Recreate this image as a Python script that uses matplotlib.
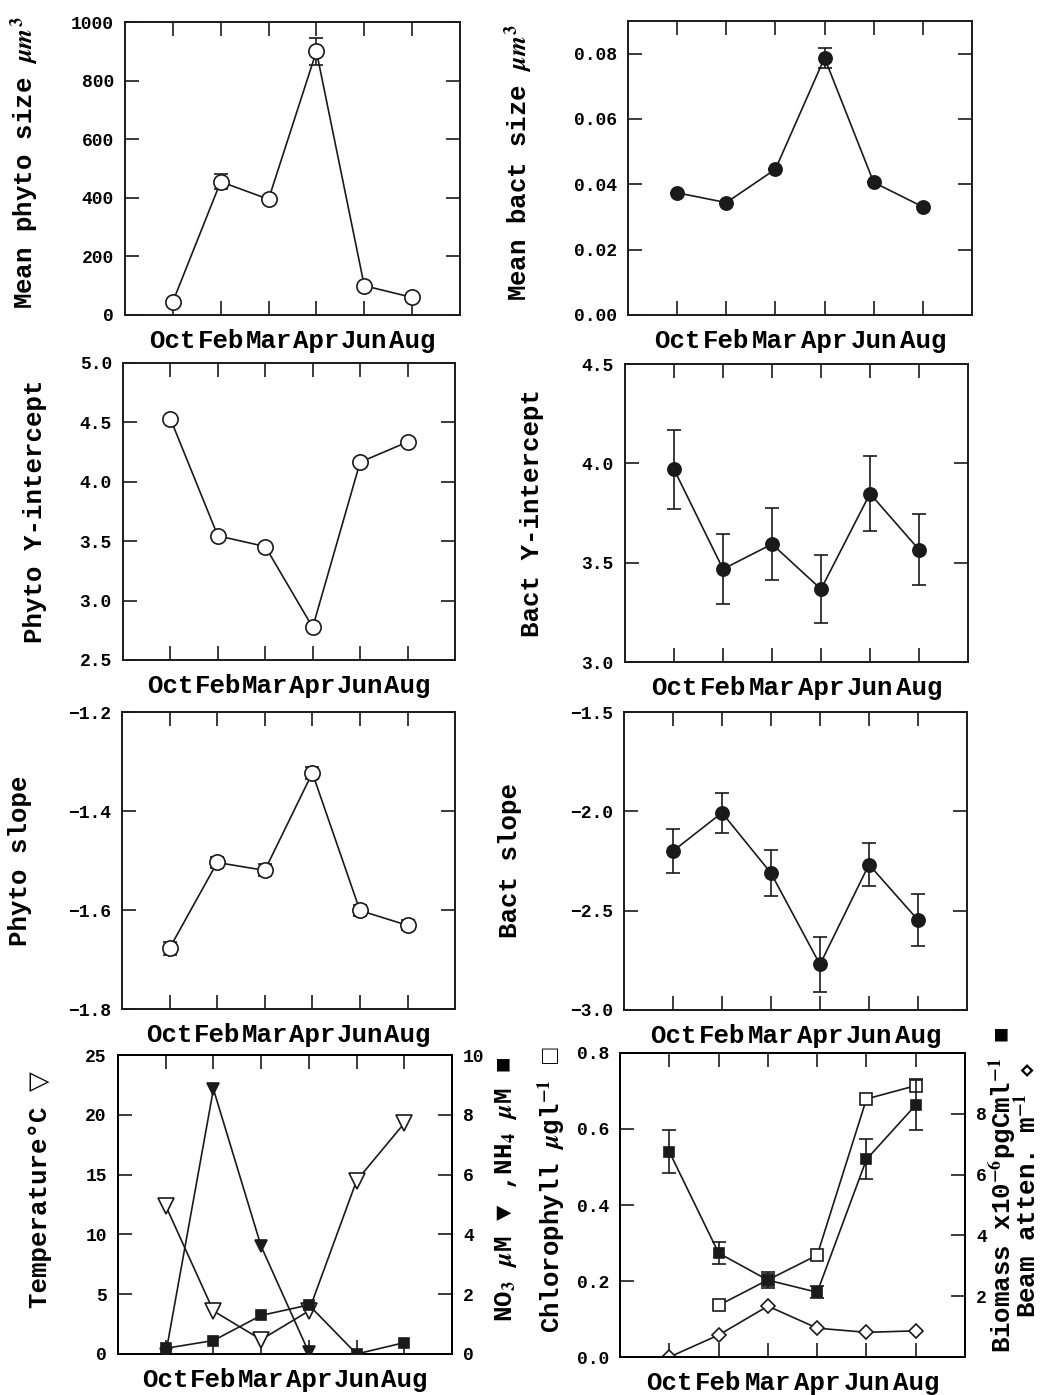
import numpy as np
import matplotlib.pyplot as plt

plt.rcParams['font.family'] = ['Liberation Mono', 'DejaVu Sans']
plt.rcParams['font.weight'] = 'bold'
plt.rcParams['axes.labelweight'] = 'bold'
plt.rcParams['mathtext.fontset'] = 'stix'

months = ['Oct', 'Feb', 'Mar', 'Apr', 'Jun', 'Aug']
x = np.arange(len(months))

# values
phyto_size = [45, 455, 395, 900, 100, 60]
phyto_size_err = [0, 25, 0, 45, 0, 0]
bact_size = [0.0374, 0.0344, 0.0446, 0.0787, 0.0406, 0.0331]
bact_size_err = [0, 0, 0, 0.003, 0, 0]
phyto_int = [4.53, 3.545, 3.455, 2.775, 4.165, 4.335]
bact_int = [3.97, 3.468, 3.594, 3.367, 3.848, 3.566]
bact_int_err = [0.2, 0.175, 0.18, 0.17, 0.19, 0.18]
phyto_slope = [-1.677, -1.504, -1.52, -1.323, -1.601, -1.631]
phyto_slope_err = [0.013, 0.012, 0.012, 0.012, 0.012, 0.01]
bact_slope = [-2.2, -2.007, -2.311, -2.771, -2.268, -2.547]
bact_slope_err = [0.11, 0.1, 0.115, 0.14, 0.11, 0.13]
temperature = [12.4, 3.6, 1.2, 3.6, 14.5, 19.3]
no3 = [0.0, 8.86, 3.6, 0.05, np.nan, np.nan]
nh4 = [0.19, 0.45, 1.29, 1.64, 0.0, 0.38]
chl = [np.nan, 0.136, 0.203, 0.268, 0.679, 0.714]
beam = [0.0, 0.058, 0.134, 0.076, 0.065, 0.069]
biomass = [6.75, 3.42, 2.53, 2.13, 6.50, 8.29]
biomass_err = [0.7, 0.36, 0.26, 0.2, 0.66, 0.84]

K = '#1a1a1a'
LBL = 18.5
TCK = 13

fig = plt.figure(figsize=(10.44, 13.95), dpi=100)


def style(ax, ylim, yticks, ylabels, right=True):
    ax.set_xlim(-1, 6)
    ax.set_xticks(x)
    ax.set_xticklabels(months, fontsize=LBL)
    ax.set_ylim(*ylim)
    ax.set_yticks(yticks)
    ax.set_yticklabels(ylabels, fontsize=TCK)
    ax.tick_params(direction='in', top=True, right=right, length=10, width=1.2, color=K)
    ax.tick_params(axis='x', pad=10)
    ax.tick_params(axis='y', pad=8)
    for s in ax.spines.values():
        s.set_linewidth(1.4)
        s.set_color(K)


def series(ax, y, err=None, **kw):
    opts = dict(color=K, lw=1.2, ms=10, mew=1.2, zorder=3)
    opts.update(kw)
    if err is not None:
        ax.errorbar(x, y, yerr=err, capsize=5, elinewidth=1.2, capthick=1.2, **opts)
    else:
        ax.plot(x, y, **opts)


open_c = dict(marker='o', mfc='white', mec=K, ms=11)
fill_c = dict(marker='o', mfc=K, mec=K, ms=9.5)

# row 1
ax = fig.add_axes([0.1197, 0.7742, 0.3209, 0.2100])
series(ax, phyto_size, phyto_size_err, **open_c)
style(ax, (0, 1000), [0, 200, 400, 600, 800, 1000], ['0', '200', '400', '600', '800', '1000'])
ax.set_ylabel(r'Mean phyto size $\mu m^3$', fontsize=LBL)
ax.yaxis.set_label_coords(-0.25, 0.52)

ax = fig.add_axes([0.6015, 0.7742, 0.3295, 0.2108])
series(ax, bact_size, bact_size_err, **fill_c)
style(ax, (0, 0.09), [0, 0.02, 0.04, 0.06, 0.08], ['0.00', '0.02', '0.04', '0.06', '0.08'])
ax.set_ylabel(r'Mean bact size $\mu m^3$', fontsize=LBL)
ax.yaxis.set_label_coords(-0.27, 0.52)

# row 2
ax = fig.add_axes([0.1178, 0.5269, 0.318, 0.2129])
series(ax, phyto_int, **open_c)
style(ax, (2.5, 5.0), [2.5, 3.0, 3.5, 4.0, 4.5, 5.0], ['2.5', '3.0', '3.5', '4.0', '4.5', '5.0'])
ax.set_ylabel('Phyto Y-intercept', fontsize=LBL)
ax.yaxis.set_label_coords(-0.23, 0.5)

ax = fig.add_axes([0.5987, 0.5254, 0.3285, 0.2136])
series(ax, bact_int, bact_int_err, **fill_c)
style(ax, (3.0, 4.5), [3.0, 3.5, 4.0, 4.5], ['3.0', '3.5', '4.0', '4.5'])
ax.set_ylabel('Bact Y-intercept', fontsize=LBL)
ax.yaxis.set_label_coords(-0.235, 0.5)

# row 3
ax = fig.add_axes([0.1169, 0.2767, 0.319, 0.2129])
series(ax, phyto_slope, phyto_slope_err, **open_c)
style(ax, (-1.8, -1.2), [-1.8, -1.6, -1.4, -1.2], ['\u22121.8', '\u22121.6', '\u22121.4', '\u22121.2'])
ax.set_ylabel('Phyto slope', fontsize=LBL)
ax.yaxis.set_label_coords(-0.27, 0.5)

ax = fig.add_axes([0.5977, 0.2760, 0.3285, 0.2136])
series(ax, bact_slope, bact_slope_err, **fill_c)
style(ax, (-3.0, -1.5), [-3.0, -2.5, -2.0, -1.5], ['\u22123.0', '\u22122.5', '\u22122.0', '\u22121.5'])
ax.set_ylabel('Bact slope', fontsize=LBL)
ax.yaxis.set_label_coords(-0.297, 0.5)

# row 4 left: temperature and nutrients
ax = fig.add_axes([0.1130, 0.0294, 0.3200, 0.2143])
ax2 = ax.twinx()
series(ax, temperature, marker='v', mfc='white', mec=K, ms=11)
series(ax2, no3, marker='v', mfc=K, mec=K, ms=9)
series(ax2, nh4, marker='s', mfc=K, mec=K, ms=7)
style(ax, (0, 25), [0, 5, 10, 15, 20, 25], ['0', '5', '10', '15', '20', '25'], right=False)
ax2.set_ylim(0, 10)
ax2.set_yticks([0, 2, 4, 6, 8, 10])
ax2.set_yticklabels(['0', '2', '4', '6', '8', '10'], fontsize=TCK)
ax2.tick_params(direction='in', length=10, width=1.2, color=K, pad=8)
for s in ax2.spines.values():
    s.set_linewidth(1.4)
ax.set_ylabel('Temperature\u00b0C \u25bd', fontsize=LBL)
ax.yaxis.set_label_coords(-0.198, 0.55)
ax2.set_ylabel('NO$_3$ $\\mu$M \u25bc ,NH$_4$ $\\mu$M \u25a0', fontsize=LBL)
ax2.yaxis.set_label_coords(1.123, 0.55)

# row 4 right: chlorophyll, beam attenuation, biomass
ax = fig.add_axes([0.5939, 0.0272, 0.3305, 0.2180])
ax2 = ax.twinx()
series(ax, chl, marker='s', mfc='white', mec=K, ms=8)
series(ax, beam, marker='D', mfc='white', mec=K, ms=7)
series(ax2, biomass, biomass_err, marker='s', mfc=K, mec=K, ms=7)
style(ax, (0, 0.8), [0, 0.2, 0.4, 0.6, 0.8], ['0.0', '0.2', '0.4', '0.6', '0.8'], right=False)
ax2.set_ylim(0, 10)
ax2.set_yticks([2, 4, 6, 8])
ax2.set_yticklabels(['2', '4', '6', '8'], fontsize=TCK)
ax2.tick_params(direction='in', length=10, width=1.2, color=K, pad=8)
for s in ax2.spines.values():
    s.set_linewidth(1.4)
ax.set_ylabel('Chlorophyll $\\mu$gl$^{-1}$ \u25a1', fontsize=LBL)
ax.yaxis.set_label_coords(-0.15, 0.55)
ax2.set_ylabel('Biomass x10$^{-6}$pgCml$^{-1}$ \u25a0\nBeam atten. m$^{-1}$ $\\diamond$',
               fontsize=LBL, linespacing=0.8)
ax2.yaxis.set_label_coords(1.06, 0.55)

fig.savefig('out.png', dpi=100, facecolor='white')
